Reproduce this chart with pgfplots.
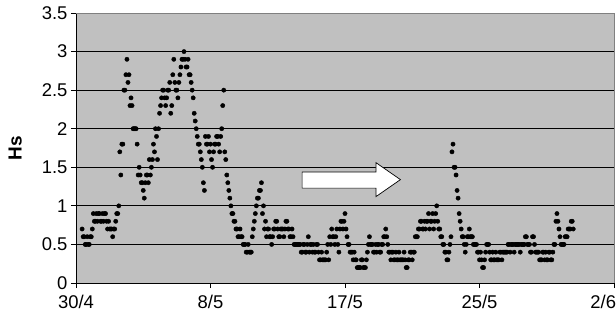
\documentclass[border=0pt]{standalone}
\usepackage{fontspec}
\setmainfont{Liberation Sans}
\usepackage{pgfplots}
\pgfplotsset{compat=1.18}
\definecolor{plotbg}{HTML}{C0C0C0}
\definecolor{bordergray}{HTML}{808080}
\begin{document}
\begin{tikzpicture}
\useasboundingbox (-76bp,-39bp) rectangle (540bp,283bp);
\begin{axis}[
  at={(0,0)}, anchor=south west,
  width=538bp, height=270bp, scale only axis,
  xmin=0, xmax=33, ymin=0, ymax=3.5,
  axis background/.style={fill=plotbg},
  axis x line*=bottom, axis y line*=left,
  axis line style={black, line width=0.8pt},
  xtick={0,8.25,16.5,24.75,33},
  xticklabels={30/4,8/5,17/5,25/5,\makebox[0pt][r]{2/6\hspace{-2bp}}},
  ytick={0,0.5,1,1.5,2,2.5,3,3.5},
  yticklabels={0,0.5,1,1.5,2,2.5,3,3.5},
  ymajorgrids, grid style={black, line width=0.9pt},
  tick align=outside, major tick length=5bp,
  tick style={black, line width=0.8pt},
  tick label style={font=\fontsize{18.5}{20}\selectfont},
  xticklabel style={yshift=-4bp},
  yticklabel style={xshift=0bp},
  every axis y label/.style={at={(rel axis cs:-0.113,0.5)}, rotate=90, anchor=center, font=\fontsize{19}{21}\selectfont\bfseries},
  ylabel={Hs},
  clip=false,
]
\addplot[only marks, mark=*, mark size=2.15bp, black] coordinates {
(0.375,0.7) (0.5,0.6) (0.625,0.5) (0.75,0.5) (0.875,0.6) (1.0,0.7) (1.125,0.8) (1.25,0.9)
(1.375,0.9) (1.5,0.8) (1.625,0.9) (1.75,0.9) (1.875,0.8) (2.0,0.8) (2.125,0.7) (2.25,0.6)
(2.375,0.7) (2.5,0.9) (2.625,1.0) (2.75,1.4) (2.875,1.8) (3.0,2.5) (3.125,2.9) (3.25,2.7)
(3.375,2.4) (3.5,2.0) (3.625,2.0) (3.75,1.8) (3.875,1.5) (4.0,1.3) (4.125,1.2) (4.25,1.3)
(4.375,1.4) (4.5,1.6) (4.625,1.5) (4.75,1.8) (4.875,2.0) (5.0,1.6) (5.125,2.2) (5.25,2.4)
(5.375,2.5) (5.5,2.3) (5.625,2.5) (5.75,2.6) (5.875,2.3) (6.0,2.9) (6.125,2.5) (6.25,2.4)
(6.375,2.7) (6.5,2.9) (6.625,3.0) (6.75,2.8) (6.875,2.9) (7.0,2.7) (7.125,2.5) (7.25,2.2)
(7.375,2.0) (7.5,1.8) (7.625,1.7) (7.75,1.5) (7.875,1.2) (8.0,1.8) (8.125,1.9) (8.25,1.8)
(8.375,1.5) (8.5,1.8) (8.625,1.9) (8.75,1.8) (8.875,1.9) (9.0,2.3) (9.125,1.7) (9.25,1.4)
(9.375,1.2) (9.5,1.0) (9.625,0.9) (9.75,0.8) (9.875,0.7) (10.0,0.6) (10.125,0.6) (10.25,0.5)
(10.375,0.5) (10.5,0.4) (10.625,0.4) (10.75,0.4) (10.875,0.7) (11.0,0.9) (11.125,1.1) (11.25,1.2)
(11.375,1.3) (11.5,1.0) (11.625,0.8) (11.75,0.7) (11.875,0.6) (12.0,0.5) (12.125,0.7) (12.25,0.8)
(12.375,0.7) (12.5,0.6) (12.625,0.7) (12.75,0.6) (12.875,0.8) (13.0,0.7) (13.125,0.6) (13.25,0.7)
(13.375,0.5) (13.5,0.5) (13.625,0.5) (13.75,0.5) (13.875,0.4) (14.0,0.5) (14.125,0.4) (14.25,0.6)
(14.375,0.5) (14.5,0.4) (14.625,0.4) (14.75,0.5) (14.875,0.4) (15.0,0.3) (15.125,0.3) (15.25,0.3)
(15.375,0.4) (15.5,0.3) (15.625,0.5) (15.75,0.6) (15.875,0.5) (16.0,0.7) (16.125,0.4) (16.25,0.8)
(16.375,0.7) (16.5,0.9) (16.625,0.6) (16.75,0.5) (16.875,0.4) (17.0,0.3) (17.125,0.3) (17.25,0.2)
(17.375,0.2) (17.5,0.3) (17.625,0.2) (17.75,0.2) (17.875,0.4) (18.0,0.6) (18.125,0.5) (18.25,0.4)
(18.375,0.5) (18.5,0.5) (18.625,0.4) (18.75,0.5) (18.875,0.6) (19.0,0.7) (19.125,0.5) (19.25,0.4)
(19.375,0.4) (19.5,0.3) (19.625,0.4) (19.75,0.3) (19.875,0.3) (20.0,0.3) (20.125,0.4) (20.25,0.2)
(20.375,0.3) (20.5,0.4) (20.625,0.3) (20.75,0.4) (20.875,0.6) (21.0,0.7) (21.125,0.8) (21.25,0.7)
(21.375,0.8) (21.5,0.8) (21.625,0.9) (21.75,0.8) (21.875,0.9) (22.0,0.8) (22.125,1.0) (22.25,0.7)
(22.375,0.6) (22.5,0.5) (22.625,0.4) (22.75,0.3) (22.875,0.4) (23.0,0.6) (23.125,1.8) (23.25,1.5)
(23.375,1.2) (23.5,0.9) (23.625,0.7) (23.75,0.6) (23.875,0.4) (24.0,0.6) (24.125,0.7) (24.25,0.6)
(24.375,0.5) (24.5,0.5) (24.625,0.4) (24.75,0.3) (24.875,0.3) (25.0,0.2) (25.125,0.4) (25.25,0.5)
(25.375,0.4) (25.5,0.3) (25.625,0.3) (25.75,0.4) (25.875,0.3) (26.0,0.4) (26.125,0.3) (26.25,0.4)
(26.375,0.4) (26.5,0.5) (26.625,0.4) (26.75,0.5) (26.875,0.4) (27.0,0.5) (27.125,0.5) (27.25,0.4)
(27.375,0.5) (27.5,0.5) (27.625,0.6) (27.75,0.5) (27.875,0.4) (28.0,0.6) (28.125,0.5) (28.25,0.4)
(28.375,0.4) (28.5,0.3) (28.625,0.4) (28.75,0.3) (28.875,0.3) (29.0,0.4) (29.125,0.3) (29.25,0.4)
(29.375,0.5) (29.5,0.9) (29.625,0.7) (29.75,0.5) (29.875,0.5) (30.0,0.6) (30.125,0.6) (30.25,0.7)
(30.375,0.8) (30.5,0.7)
(0.4375,0.6) (0.5625,0.5) (0.6875,0.6) (0.8125,0.5) (0.9375,0.6) (1.0625,0.9) (1.1875,0.8) (1.3125,0.8)
(1.4375,0.9) (1.5625,0.8) (1.6875,0.8) (1.8125,0.9) (1.9375,0.7) (2.0625,0.7) (2.1875,0.7) (2.3125,0.7)
(2.4375,0.8) (2.5625,0.9) (2.6875,1.7) (2.8125,1.8) (2.9375,2.5) (3.0625,2.7) (3.1875,2.6) (3.3125,2.3)
(3.4375,2.3) (3.5625,2.0) (3.6875,2.0) (3.8125,1.4) (3.9375,1.4) (4.0625,1.3) (4.1875,1.1) (4.3125,1.4)
(4.4375,1.3) (4.5625,1.4) (4.6875,1.6) (4.8125,1.7) (4.9375,1.9) (5.0625,2.0) (5.1875,2.3) (5.3125,2.5)
(5.4375,2.4) (5.5625,2.4) (5.6875,2.5) (5.8125,2.2) (5.9375,2.7) (6.0625,2.6) (6.1875,2.5) (6.3125,2.6)
(6.4375,2.8) (6.5625,2.9) (6.6875,2.9) (6.8125,2.8) (6.9375,2.7) (7.0625,2.6) (7.1875,2.4) (7.3125,2.1)
(7.4375,1.9) (7.5625,1.8) (7.6875,1.6) (7.8125,1.3) (7.9375,1.9) (8.0625,1.8) (8.1875,1.7) (8.3125,1.6)
(8.4375,1.7) (8.5625,1.8) (8.6875,1.9) (8.8125,1.7) (8.9375,2.0) (9.0625,2.5) (9.1875,1.6) (9.3125,1.3)
(9.4375,1.1) (9.5625,0.9) (9.6875,0.8) (9.8125,0.7) (9.9375,0.6) (10.0625,0.7) (10.1875,0.6) (10.3125,0.5)
(10.4375,0.4) (10.5625,0.5) (10.6875,0.4) (10.8125,0.6) (10.9375,0.8) (11.0625,1.0) (11.1875,1.1) (11.3125,1.2)
(11.4375,0.9) (11.5625,0.7) (11.6875,0.6) (11.8125,0.7) (11.9375,0.6) (12.0625,0.6) (12.1875,0.7) (12.3125,0.8)
(12.4375,0.6) (12.5625,0.7) (12.6875,0.7) (12.8125,0.7) (12.9375,0.8) (13.0625,0.7) (13.1875,0.6) (13.3125,0.6)
(13.4375,0.5) (13.5625,0.5) (13.6875,0.5) (13.8125,0.4) (13.9375,0.5) (14.0625,0.4) (14.1875,0.5) (14.3125,0.4)
(14.4375,0.5) (14.5625,0.5) (14.6875,0.4) (14.8125,0.5) (14.9375,0.3) (15.0625,0.4) (15.1875,0.3) (15.3125,0.3)
(15.4375,0.5) (15.5625,0.6) (15.6875,0.7) (15.8125,0.6) (15.9375,0.6) (16.0625,0.5) (16.1875,0.7) (16.3125,0.8)
(16.4375,0.8) (16.5625,0.7) (16.6875,0.5) (16.8125,0.4) (16.9375,0.4) (17.0625,0.4) (17.1875,0.3) (17.3125,0.2)
(17.4375,0.2) (17.5625,0.3) (17.6875,0.2) (17.8125,0.3) (17.9375,0.5) (18.0625,0.5) (18.1875,0.5) (18.3125,0.4)
(18.4375,0.4) (18.5625,0.5) (18.6875,0.4) (18.8125,0.5) (18.9375,0.6) (19.0625,0.6) (19.1875,0.4) (19.3125,0.3)
(19.4375,0.4) (19.5625,0.3) (19.6875,0.3) (19.8125,0.4) (19.9375,0.3) (20.0625,0.3) (20.1875,0.3) (20.3125,0.2)
(20.4375,0.3) (20.5625,0.4) (20.6875,0.4) (20.8125,0.6) (20.9375,0.6) (21.0625,0.7) (21.1875,0.8) (21.3125,0.7)
(21.4375,0.7) (21.5625,0.8) (21.6875,0.7) (21.8125,0.8) (21.9375,0.7) (22.0625,0.9) (22.1875,0.8) (22.3125,0.7)
(22.4375,0.6) (22.5625,0.5) (22.6875,0.4) (22.8125,0.3) (22.9375,0.5) (23.0625,1.7) (23.1875,1.5) (23.3125,1.4)
(23.4375,1.1) (23.5625,0.8) (23.6875,0.6) (23.8125,0.5) (23.9375,0.5) (24.0625,0.6) (24.1875,0.6) (24.3125,0.6)
(24.4375,0.5) (24.5625,0.5) (24.6875,0.4) (24.8125,0.4) (24.9375,0.2) (25.0625,0.3) (25.1875,0.5) (25.3125,0.5)
(25.4375,0.3) (25.5625,0.4) (25.6875,0.3) (25.8125,0.3) (25.9375,0.3) (26.0625,0.4) (26.1875,0.4) (26.3125,0.4)
(26.4375,0.4) (26.5625,0.5) (26.6875,0.5) (26.8125,0.5) (26.9375,0.5) (27.0625,0.5) (27.1875,0.5) (27.3125,0.5)
(27.4375,0.5) (27.5625,0.6) (27.6875,0.5) (27.8125,0.5) (27.9375,0.4) (28.0625,0.6) (28.1875,0.4) (28.3125,0.4)
(28.4375,0.3) (28.5625,0.3) (28.6875,0.4) (28.8125,0.4) (28.9375,0.3) (29.0625,0.4) (29.1875,0.3) (29.3125,0.5)
(29.4375,0.8) (29.5625,0.8) (29.6875,0.6) (29.8125,0.5) (29.9375,0.5) (30.0625,0.6) (30.1875,0.7) (30.3125,0.7)
(30.4375,0.8)
};
\draw[bordergray, line width=0.8pt] (rel axis cs:0,1) -- (rel axis cs:1,1) -- (rel axis cs:1,0);
\draw[black, line width=0.7pt, fill=white]
  (axis cs:13.87,1.23) -- (axis cs:18.4,1.23) -- (axis cs:18.4,1.12) -- (axis cs:19.9,1.34)
  -- (axis cs:18.4,1.56) -- (axis cs:18.4,1.44) -- (axis cs:13.87,1.44) -- cycle;
\end{axis}
\end{tikzpicture}
\end{document}
